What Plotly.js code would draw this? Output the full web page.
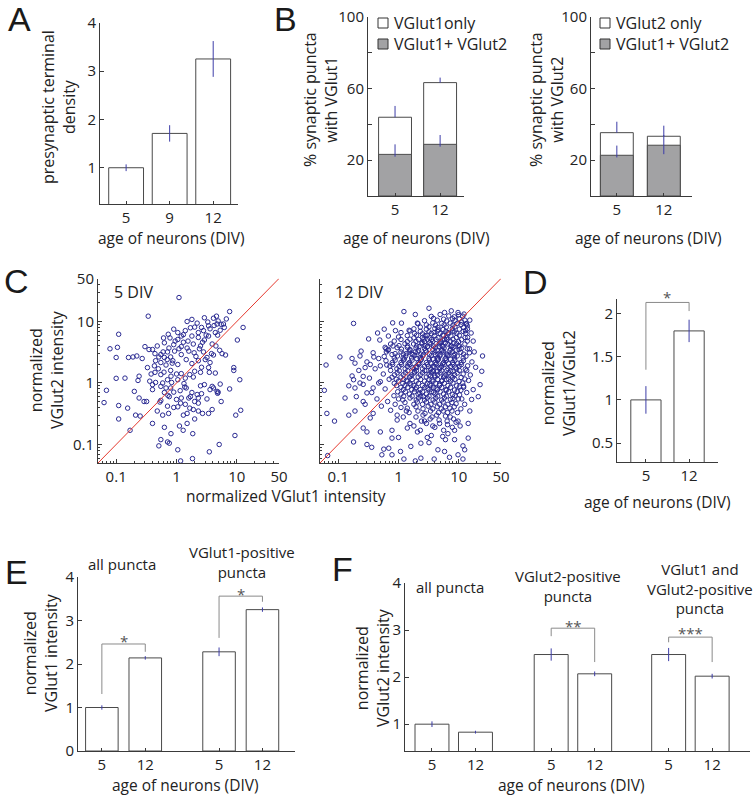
<!DOCTYPE html>
<html>
<head>
<meta charset="utf-8">
<script src="https://cdn.plot.ly/plotly-3.0.1.min.js"></script>
<style>body{margin:0;background:#fff}#plot{width:754px;height:797px}</style>
</head>
<body>
<div id="plot"></div>
<script>
// ---- data ----
var ageA = ["5", "9", "12"];
var densityA = [1.0, 1.71, 3.25];
var densityErrA = [0.07, 0.17, 0.37];

var ageB = ["5", "12"];
var vglut1Total = [43.9, 63.2];
var vglut1TotalErr = [6.3, 2.8];
var vglut1Both = [23.2, 28.8];
var vglut1BothErrUp = [5.6, 5.2];
var vglut1BothErrDown = [1.3, 1.3];
var vglut2Total = [35.3, 33.3];
var vglut2TotalErr = [6.1, 5.9];
var vglut2Both = [22.7, 28.3];
var vglut2BothErrUp = [5.4, 5.7];
var vglut2BothErrDown = [1.2, 5.0];

var ageD = ["5", "12"];
var ratioD = [1.0, 1.80];
var ratioErrD = [0.16, 0.13];

var ageE = ["5", "12", "5", "12"];
var vglut1IntE = [1.0, 2.14, 2.28, 3.25];
var vglut1ErrE = [0.05, 0.04, 0.10, 0.05];

var ageF = ["5", "12", "5", "12", "5", "12"];
var vglut2IntF = [1.0, 0.83, 2.48, 2.07, 2.48, 2.02];
var vglut2ErrF = [0.06, 0.03, 0.13, 0.05, 0.14, 0.05];

var diagonal = [0.05, 50];

// [VGlut1, VGlut2] normalized intensity, 5 DIV
var div5Points = [
 [1.1,24.5],[0.34,12.2],[7.6,14.5],[12.7,8],[0.11,6.2],[1.8,10.8],[3.3,9.8],[4.1,11.3],[4.7,9.1],[6.7,11],
 [2.6,8],[2.0,8.1],[2.8,7.1],[0.9,7.5],[1.05,6.6],[0.73,6.2],[0.61,5.4],[0.78,5.4],[1.05,5.1],[1.3,6.1],
 [1.55,4.8],[1.8,5.8],[2.3,5.5],[2.9,5],[3.4,5.8],[4.4,6.6],[5.3,7.2],[6,9.1],[4.9,10.2],[3.4,8.5],
 [2.3,6.6],[1.4,7.1],[10.2,5],[3.9,4.3],[2.5,4],[1.9,4.3],[1.5,3.7],[1.2,3.9],[0.9,4.2],[0.63,4.5],
 [0.48,4],[0.4,3.5],[0.079,3.6],[0.105,3.8],[0.1,2.6],[0.16,2.6],[0.19,2.65],[0.22,2.75],[0.35,3.5],[0.44,3],
 [0.51,2.65],[0.71,3.2],[0.93,3.3],[1.2,2.9],[1.45,2.4],[1.96,3.1],[2.8,3.2],[3.2,2.6],[4.1,2.85],[5.7,3],
 [6.5,2.85],[3.6,2.15],[2.3,2.3],[1.8,2.07],[1.05,2],[0.87,2.3],[0.67,1.96],[0.55,2.15],[0.43,1.9],[0.33,1.78],
 [3.4,1.78],[8.9,1.78],[0.63,2.6],[0.8,2.65],
 [0.1,1.19],[0.14,1.2],[0.23,1.1],[0.24,1.29],[0.36,1.07],[0.44,1.49],[0.55,1.37],[0.59,1],[0.71,1.13],[0.81,1.29],
 [0.83,1.02],[1.05,1.13],[1.2,1.42],[1.66,1.37],[2,1.55],[2.5,1.49],[3.5,1.49],[4.4,1.45],[8.9,1.6],[0.069,0.76],
 [0.063,0.48],[0.11,0.43],[0.155,0.39],[0.11,0.26],[0.2,0.73],[0.24,0.57],[0.29,0.5],[0.32,0.5],[0.4,0.78],[0.55,0.88],
 [0.53,0.49],[0.55,0.52],[0.67,0.83],[0.8,0.83],[0.9,0.71],[1.37,0.86],[1.45,0.83],[1.8,0.7],[2.2,0.65],[2.3,0.57],
 [2.6,0.67],[2.9,0.94],[3.6,0.78],[4.1,0.83],[4.7,0.73],[4.9,0.71],[3.9,0.88],[5.5,0.5],[7.6,0.8],[11.2,1.13],
 [1.17,0.47],[1.05,0.41],[1.4,0.45],[1.66,0.39],[1.9,0.37],[2.3,0.35],[2.7,0.32],[3.4,0.32],[3.9,0.37],[0.71,0.42],
 [0.74,0.32],[0.59,0.3],[0.48,0.35],[0.4,0.22],[0.21,0.3],[0.25,0.29],[0.63,0.19],[1.12,0.2],[1.29,0.17],[1.5,0.22],
 [1.86,0.15],[0.81,0.15],[0.55,0.12],[0.51,0.095],[0.71,0.11],[0.76,0.105],[1.05,0.082],[1.17,0.054],[1.84,0.059],[3.5,0.076],
 [5.1,0.1],[9.3,0.14],[9.6,0.3],[11.6,0.36],[0.17,0.17],[0.76,0.6],[1,0.54],[1.2,0.57],[2,0.5],[1.6,0.57],
 [0.45,1.02],[0.4,0.94],[0.63,0.7],[1.33,0.98],[2.3,0.47],[1.5,0.32],[5.3,0.96],[4.8,0.68],
 [0.6,3.2],[0.7,2.4],[0.85,2.1],[1.1,3.6],[1.3,4.6],[1.6,3.3],[2.1,2.7],[2.4,3.6],[2.7,4.6],[3.1,6],
 [3.6,7.6],[4.2,8.6],[4.8,6],[5.5,9],[6.2,8],[2.2,9.4],[1.7,7.9],[1.2,5.8],[0.95,4.8],[0.75,3.7],
 [0.55,2.9],[0.5,1.7],[0.62,1.5],[0.8,1.6],[1.0,1.4],[1.4,1.2],[1.9,1.25],[2.6,1.8],[3.0,2.4],[3.8,3],
 [4.5,4],[5.2,3.4],[0.45,2.3],[0.38,1.4],[0.3,3.9],[0.27,2.5],[1.5,10],[2.9,11.5],[4.6,12.2],[0.72,0.63],
 [1.15,0.75],[1.7,0.6],[2.5,0.9],[3.2,0.55],[0.9,0.4],[1.3,0.3],[2.0,0.26]
];

// [VGlut1, VGlut2] normalized intensity, 12 DIV
var div12Points = [
 // sparse points around the cloud
 [0.18,9.3],[1.23,14.5],[1.9,13],[3.2,16.4],[5.8,14],[7.5,14.9],[9.7,14],[12.2,13.2],[1.12,9.4],[0.49,5],
 [0.89,7.1],[1.5,7.2],[2.06,9.4],[13.4,9.1],[12.9,7.1],[17.3,4.8],[24.7,2.75],[0.107,2.65],[0.17,2.5],[0.23,2.75],
 [0.39,2.65],[0.6,3.8],[0.67,3.4],[0.81,4],[0.28,1.78],[0.34,2.0],[0.5,1.9],[0.64,1.96],[0.063,1.96],
 [0.065,0.32],[0.059,0.76],[0.087,0.24],[0.067,0.066],[0.13,0.57],[0.15,0.3],[0.19,0.35],[0.18,0.11],[0.3,0.1],[0.36,0.09],
 [0.57,0.084],[0.69,0.087],[0.53,0.068],[0.78,0.068],[1.08,0.077],[1.6,0.093],[2.35,0.105],[3.2,0.107],[4.5,0.082],[5.8,0.077],
 [8.5,0.12],[11.7,0.095],[12.5,0.082],[11.7,0.058],[9.7,0.068],[7,0.062],[3.9,0.058],[2.35,0.06],[1.9,0.054],[1.23,0.058],
 [1.0,0.13],[0.78,0.127],[0.5,0.16],[0.3,0.16],[0.26,0.185],[0.38,0.32],[0.34,0.27],[0.26,0.5],[0.3,0.69],[0.38,0.83],
 [0.47,1],[0.18,1.13],[0.23,1],[0.19,0.83],[0.26,1.28],[14.3,0.127],[8.5,0.17],[9.7,0.24],[14.3,0.22],[15.2,0.35],
 [16.3,0.54],[17.3,0.78],[21,0.6],[24,1.55],[22.5,0.94],[3.7,0.2],[2.7,0.24],[2.06,0.16],[1.4,0.185],[0.95,0.25],
 [0.78,0.17],[5.4,0.135],[6.6,0.15],
 [0.22,1.6],[0.26,0.95],[0.3,2.2],[0.33,1.2],[0.36,0.7],[0.38,3.1],[0.41,1.7],[0.44,0.55],[0.47,2.5],[0.5,1.05],
 [0.52,0.42],[0.56,1.4],[0.6,0.8],[0.62,3.6],[0.66,0.5],[0.7,1.15],[0.74,0.36],[0.78,2.9],[0.84,0.62],[0.88,0.45],
 [0.95,0.3],[0.28,0.45],[0.24,3.3],[0.2,0.6],[0.32,5.2],[0.45,6.5],[0.58,7.5],[0.8,9.5],[0.68,5.8],[1.0,0.55],
 [1.1,0.4],[1.2,0.28],[1.35,0.35],[1.55,0.22],[0.17,1.3],[0.15,0.9],[0.19,2.1],
 [1.8,0.2],[2.3,0.17],[2.9,0.22],[3.5,0.14],[4.0,0.19],[4.8,0.22],[5.6,0.17],[6.5,0.21],[7.8,0.19],[9.0,0.23],
 [10.5,0.2],[3.0,0.13],[6.0,0.12],[8.2,0.26],[9.5,0.33],[10.8,0.38],[12.5,0.45],[11.2,0.55],[13.5,0.7],[12.0,0.85],
 [14.5,1.1],[15.5,1.35],[13.5,1.6],[16.5,2.2],[18,3.2],[15,3.6],[19,1.8],[14,5.5],[16,6.5],[13.8,8.5],[15.2,10.5],
 // dense core, read band by band
 [3.5,12.1],[4.9,13.0],[6.8,12.3],[8.4,11.9],[9.9,12.9],[11.6,12.2],
 [2.7,10.3],[3.8,11.2],[4.4,10.5],[5.6,10.9],[6.3,10.2],[7.9,11.1],[8.6,10.4],[10.2,11.0],[12.6,10.5],[11.1,9.8],
 [2.1,9.2],[2.9,8.8],[3.7,9.5],[4.1,8.7],[5.2,9.3],[5.7,8.8],[7.2,9.4],[8.0,8.7],[9.4,9.3],[10.9,8.9],[13.2,9.2],
 [1.8,7.6],[2.3,8.1],[2.9,7.5],[3.2,8.2],[4.0,7.7],[4.5,8.0],[5.5,7.4],[6.2,8.1],[7.8,7.6],[8.6,8.2],[10.2,7.5],[12.0,8.0],[13.9,7.6],
 [1.1,6.6],[1.55,7.0],[1.85,6.4],[2.3,6.9],[2.5,6.3],[3.2,6.8],[3.5,6.4],[4.4,7.0],[4.9,6.4],[6.1,6.9],[6.7,6.3],[8.4,6.8],[9.3,6.4],[11.8,6.9],[13.0,6.4],
 [1.0,5.6],[1.4,5.9],[1.8,5.4],[2.0,6.0],[2.5,5.5],[2.75,5.9],[3.3,5.4],[4.0,5.9],[4.5,5.45],[5.6,5.95],[6.2,5.4],[7.4,5.8],[9.1,5.5],[10.2,5.95],[12.7,5.5],
 [0.85,4.8],[1.1,5.1],[1.4,4.7],[1.55,5.15],[1.95,4.75],[2.15,5.1],[2.7,4.7],[3.0,5.15],[3.7,4.75],[4.2,5.1],[5.1,4.7],[5.8,5.1],[7.2,4.75],[8.0,5.15],[9.9,4.7],[11.1,5.05],[13.8,4.8],
 [0.74,4.3],[1.02,4.05],[1.28,4.35],[1.42,4.0],[1.78,4.3],[2.0,4.0],[2.45,4.35],[2.75,4.05],[3.45,4.3],[3.8,4.0],[4.75,4.35],[5.3,4.0],[6.6,4.3],[7.4,4.05],[9.2,4.35],[10.3,4.0],[12.6,4.3],
 [0.68,3.5],[0.95,3.75],[1.12,3.55],[1.4,3.8],[1.55,3.5],[1.95,3.7],[2.15,3.4],[2.7,3.65],[3.0,3.85],[3.7,3.5],[4.1,3.75],[5.2,3.45],[5.7,3.7],[7.3,3.55],[8.0,3.8],[10.1,3.5],[11.0,3.65],[13.8,3.6],
 [0.63,3.2],[0.88,3.0],[1.1,3.2],[1.2,2.95],[1.5,3.2],[1.68,2.95],[2.1,3.2],[2.35,2.95],[2.9,3.2],[3.25,2.95],[4.0,3.2],[4.5,2.95],[5.6,3.2],[6.2,2.95],[7.8,3.2],[8.6,2.95],[10.8,3.15],[12.0,2.95],[15.0,3.1],
 [0.58,2.7],[0.85,2.55],[0.96,2.75],[1.19,2.55],[1.32,2.75],[1.65,2.55],[1.85,2.78],[2.28,2.55],[2.52,2.75],[3.2,2.52],[3.5,2.78],[4.45,2.55],[4.85,2.75],[6.1,2.52],[6.8,2.78],[8.5,2.55],[9.4,2.75],[11.8,2.55],[13.1,2.72],
 [0.62,2.3],[0.79,2.15],[0.88,2.35],[1.1,2.15],[1.2,2.35],[1.52,2.15],[1.68,2.35],[2.12,2.12],[2.33,2.35],[2.9,2.15],[3.25,2.35],[4.05,2.15],[4.45,2.35],[5.6,2.15],[6.2,2.35],[7.9,2.15],[8.6,2.33],[10.9,2.15],[11.9,2.3],
 [0.72,1.88],[0.8,2.0],[1.02,1.86],[1.12,2.0],[1.4,1.86],[1.55,2.0],[1.97,1.86],[2.15,2.0],[2.7,1.86],[3.0,2.0],[3.75,1.86],[4.15,2.0],[5.2,1.86],[5.75,2.0],[7.3,1.86],[8.0,2.0],[10.1,1.87],[11.0,1.99],[14.0,1.9],
 [0.74,1.6],[0.94,1.7],[1.03,1.58],[1.29,1.7],[1.42,1.58],[1.8,1.7],[1.98,1.58],[2.5,1.7],[2.72,1.58],[3.45,1.7],[3.8,1.58],[4.8,1.7],[5.2,1.58],[6.6,1.7],[7.3,1.58],[9.2,1.7],[10.2,1.6],[12.8,1.68],
 [0.86,1.36],[0.95,1.46],[1.2,1.36],[1.3,1.46],[1.66,1.36],[1.83,1.46],[2.3,1.36],[2.5,1.46],[3.2,1.36],[3.5,1.46],[4.45,1.36],[4.9,1.46],[6.1,1.36],[6.8,1.46],[8.5,1.37],[9.4,1.45],[11.8,1.4],
 [0.78,1.24],[0.92,1.15],[1.1,1.25],[1.22,1.14],[1.52,1.25],[1.68,1.14],[2.12,1.25],[2.33,1.14],[2.9,1.25],[3.2,1.14],[4.05,1.25],[4.45,1.14],[5.6,1.25],[6.2,1.14],[7.9,1.24],[8.6,1.15],[10.9,1.23],[12.6,1.16],
 [0.85,0.99],[1.0,1.07],[1.18,0.99],[1.4,1.07],[1.55,0.99],[1.97,1.07],[2.15,0.99],[2.7,1.07],[3.0,0.99],[3.75,1.07],[4.15,0.99],[5.2,1.07],[5.75,0.99],[7.3,1.07],[8.0,1.0],[10.1,1.06],[11.6,1.0],
 [0.93,0.91],[1.1,0.85],[1.28,0.91],[1.42,0.85],[1.8,0.91],[1.98,0.85],[2.5,0.91],[2.72,0.85],[3.45,0.91],[3.8,0.85],[4.8,0.91],[5.2,0.85],[6.6,0.91],[7.3,0.85],[9.2,0.9],[10.2,0.86],[12.0,0.89],
 [0.97,0.72],[1.2,0.78],[1.3,0.72],[1.66,0.78],[1.83,0.72],[2.3,0.78],[2.5,0.72],[3.2,0.78],[3.5,0.72],[4.45,0.78],[4.9,0.72],[6.1,0.78],[6.8,0.72],[8.5,0.77],[9.4,0.73],[10.8,0.76],
 [1.1,0.66],[1.22,0.61],[1.52,0.66],[1.68,0.61],[2.12,0.66],[2.33,0.61],[2.9,0.66],[3.2,0.61],[4.05,0.66],[4.45,0.61],[5.6,0.66],[6.2,0.61],[7.9,0.65],[8.6,0.62],[10.3,0.64],
 [1.18,0.53],[1.55,0.57],[1.97,0.53],[2.15,0.57],[2.7,0.53],[3.0,0.57],[3.75,0.53],[4.15,0.57],[5.2,0.53],[5.75,0.57],[7.3,0.54],[8.0,0.56],[9.8,0.55],
 [1.28,0.48],[1.8,0.45],[2.05,0.49],[2.5,0.45],[2.9,0.49],[3.45,0.45],[4.0,0.49],[4.8,0.45],[5.5,0.49],[6.6,0.45],[7.7,0.48],[9.0,0.46],
 [1.4,0.39],[1.95,0.41],[2.55,0.38],[3.1,0.42],[3.7,0.38],[4.4,0.41],[5.1,0.38],[6.0,0.41],[7.1,0.39],[8.4,0.41],
 [1.5,0.33],[2.1,0.35],[2.75,0.32],[3.4,0.35],[4.6,0.33],[5.5,0.35],[6.5,0.33],[7.7,0.35],
 [1.95,0.28],[2.55,0.3],[3.6,0.28],[4.3,0.3],[6.0,0.29],[7.2,0.28],
 [2.4,0.24],[3.35,0.26],[4.7,0.25],[6.4,0.24],
 // darkest centre of the cloud
 [1.6,1.28],[1.85,1.52],[2.0,1.78],[2.25,2.08],[2.4,2.45],[2.6,2.9],[2.8,3.4],[3.05,3.95],[3.3,4.5],[3.55,5.1],
 [3.4,1.3],[3.65,1.55],[3.9,1.82],[4.3,2.08],[4.6,2.45],[4.9,2.88],[5.3,3.35],[5.5,3.95],[6.0,4.5],[6.4,5.1],
 [1.35,1.1],[1.6,0.93],[1.9,0.8],[2.25,0.69],[2.6,0.6],[3.0,0.82],[3.3,0.96],[3.6,1.12],[4.0,1.32],[4.4,1.55],
 [4.9,1.78],[5.4,2.05],[5.9,2.45],[6.5,2.85],[7.1,3.35],[7.6,3.95],[8.2,4.5],[2.0,2.5],[1.75,2.9],[1.55,3.4],
 [1.35,3.0],[1.25,2.45],[1.45,2.05],[1.7,1.78],[2.9,1.6],[3.15,1.85],[3.45,2.1],[3.7,2.45],[4.05,2.9],[4.35,3.4],
 [4.7,3.95],[5.0,4.5],[5.4,5.0],[6.8,2.05],[7.2,2.45],[6.3,1.6],[5.8,1.3],[5.3,1.1],[4.8,0.96],[4.2,0.82],
 [3.8,0.7],[6.8,1.15],[7.4,1.3],[8.0,1.55],[8.8,1.8],[9.6,2.1],[8.3,2.8],[9.0,3.4],[9.8,4.0],[6.2,0.76],
 [2.2,3.9],[2.45,4.55],[1.9,3.2],[2.65,5.2],[3.0,6.0],[3.9,6.6],[4.6,7.3],[5.4,6.0],[6.6,6.6],[7.9,7.0]
];

// ---- layout helpers (pixel boxes of the 754x797 figure) ----
var W = 754, H = 797;
var FONT = "Open Sans, sans-serif";
var INK = "#222";
var BAR_EDGE = "#4a4a4a";
var ERR = "#3d3da8";
var GREY = "#a2a2a4";

function xdom(a, b) { return [a / W, b / W]; }
function ydom(top, bottom) { return [1 - bottom / H, 1 - top / H]; }
function px(x) { return x / W; }
function py(y) { return 1 - y / H; }

function axis(extra) {
  var a = {
    showline: true, linecolor: "#3a3a3a", linewidth: 1,
    ticks: "inside", ticklen: 4, tickcolor: "#3a3a3a",
    showgrid: false, zeroline: false, fixedrange: true,
    tickfont: {family: FONT, size: 15, color: INK}
  };
  for (var k in extra) a[k] = extra[k];
  return a;
}

function errBar(arr, minus) {
  var e = {type: "data", array: arr, color: ERR, thickness: 1, width: 0};
  if (minus) { e.symmetric = false; e.arrayminus = minus; }
  return e;
}

function bars(x, y, err, xa, ya, width, fill) {
  return {
    type: "bar", x: x, y: y, width: width, xaxis: xa, yaxis: ya,
    marker: {color: fill || "white", line: {color: BAR_EDGE, width: 1}},
    error_y: err, showlegend: false, hoverinfo: "skip"
  };
}

var slotA = [1, 2, 3];
var slotB = [1, 2];
var slotE = [1, 2, 3.7, 4.7];
var slotF = [1, 2, 3.74, 4.74, 6.44, 7.44];

var data = [
  bars(slotA, densityA, errBar(densityErrA), "x", "y", 0.8),
  bars(slotB, vglut1Total, errBar(vglut1TotalErr, [0, 0]), "x2", "y2", 0.73),
  bars(slotB, vglut1Both, errBar(vglut1BothErrUp, vglut1BothErrDown), "x2", "y2", 0.73, GREY),
  bars(slotB, vglut2Total, errBar(vglut2TotalErr, [0, 0]), "x3", "y3", 0.7),
  bars(slotB, vglut2Both, errBar(vglut2BothErrUp, vglut2BothErrDown), "x3", "y3", 0.7, GREY),
  bars(slotB, ratioD, errBar(ratioErrD), "x6", "y6", 0.7),
  bars(slotE, vglut1IntE, errBar(vglut1ErrE), "x7", "y7", 0.75),
  bars(slotF, vglut2IntF, errBar(vglut2ErrF), "x8", "y8", 0.78)
];

function scatterTrace(points, xa, ya) {
  return {
    type: "scatter", mode: "markers", xaxis: xa, yaxis: ya,
    x: points.map(p => p[0]), y: points.map(p => p[1]),
    marker: {symbol: "circle-open", size: 4.5, color: "#2a2a92", line: {width: 1}},
    showlegend: false, hoverinfo: "skip"
  };
}
function diagTrace(xa, ya) {
  return {
    type: "scatter", mode: "lines", x: diagonal, y: diagonal, xaxis: xa, yaxis: ya,
    line: {color: "#e5392e", width: 1}, showlegend: false, hoverinfo: "skip"
  };
}
data.push(scatterTrace(div5Points, "x4", "y4"), diagTrace("x4", "y4"));
data.push(scatterTrace(div12Points, "x5", "y5"), diagTrace("x5", "y5"));

var logRange = [Math.log10(0.05), Math.log10(50)];
var logTicks = [0.1, 1, 10, 50];
var logMinor = [0.06, 0.07, 0.08, 0.09, 0.2, 0.3, 0.4, 0.5, 0.6, 0.7, 0.8, 0.9,
                2, 3, 4, 5, 6, 7, 8, 9, 20, 30, 40];
function logAxis(dom, anchor, labels) {
  return axis({
    type: "log", domain: dom, anchor: anchor, range: logRange,
    tickmode: "array", tickvals: logTicks, ticktext: ["0.1", "1", "10", "50"],
    showticklabels: labels,
    minor: {ticks: "inside", ticklen: 2, tickcolor: "#3a3a3a", tickvals: logMinor}
  });
}

var layout = {
  width: W, height: H,
  margin: {l: 0, r: 0, t: 0, b: 0},
  paper_bgcolor: "white", plot_bgcolor: "rgba(0,0,0,0)",
  barmode: "overlay", showlegend: false,
  font: {family: FONT, size: 16, color: INK},

  xaxis: axis({domain: xdom(100, 238), anchor: "y", range: [0.4, 3.57], tickmode: "array", tickvals: slotA, ticktext: ageA, ticklen: 3}),
  yaxis: axis({domain: ydom(22.7, 204), anchor: "x", range: [0.25, 4], tickmode: "array", tickvals: [1, 2, 3, 4]}),

  xaxis2: axis({domain: xdom(368, 464), anchor: "y2", range: [0.4, 2.53], tickmode: "array", tickvals: slotB, ticktext: ageB, ticklen: 3}),
  yaxis2: axis({domain: ydom(16.6, 196), anchor: "x2", range: [0, 100], tickmode: "array", tickvals: [20, 40, 60, 80, 100], ticktext: ["20", "", "60", "", "100"]}),

  xaxis3: axis({domain: xdom(591, 692), anchor: "y3", range: [0.45, 2.6], tickmode: "array", tickvals: slotB, ticktext: ageB, ticklen: 3}),
  yaxis3: axis({domain: ydom(16.6, 196), anchor: "x3", range: [0, 100], tickmode: "array", tickvals: [20, 40, 60, 80, 100], ticktext: ["20", "", "60", "", "100"]}),

  xaxis4: logAxis(xdom(98, 279), "y4", true),
  yaxis4: logAxis(ydom(278.5, 463), "x4", true),
  xaxis5: logAxis(xdom(320, 501), "y5", true),
  yaxis5: logAxis(ydom(278.5, 463), "x5", false),

  xaxis6: axis({domain: xdom(617, 718), anchor: "y6", range: [0.33, 2.67], tickmode: "array", tickvals: slotB, ticktext: ageD, ticklen: 3}),
  yaxis6: axis({domain: ydom(299, 462), anchor: "x6", range: [0.28, 2.17], tickmode: "array", tickvals: [0.5, 1, 1.5, 2]}),

  xaxis7: axis({domain: xdom(78, 295), anchor: "y7", range: [0.45, 5.45], tickmode: "array", tickvals: slotE, ticktext: ageE, ticklen: 3}),
  yaxis7: axis({domain: ydom(577, 751), anchor: "x7", range: [0, 4], tickmode: "array", tickvals: [0, 1, 2, 3, 4]}),

  xaxis8: axis({domain: xdom(405, 750), anchor: "y8", range: [0.38, 8.31], tickmode: "array", tickvals: slotF, ticktext: ageF, ticklen: 3}),
  yaxis8: axis({domain: ydom(583, 751), anchor: "x8", range: [0.43, 4], tickmode: "array", tickvals: [1, 2, 3, 4]}),

  shapes: [],
  annotations: []
};

// text helpers
function label(text, x, y, opts) {
  var a = {
    xref: "paper", yref: "paper", x: px(x), y: py(y), text: text, showarrow: false,
    xanchor: "center", yanchor: "middle", font: {family: FONT, size: 16, color: INK}
  };
  for (var k in opts) a[k] = opts[k];
  layout.annotations.push(a);
}
function ytitle(text, x, y) { label(text, x, y, {textangle: -90}); }
function xtitle(text, x, y) { label(text, x, y, {font: {family: FONT, size: 15.5, color: INK}}); }
function group(text, x, y) { label(text, x, y, {font: {family: FONT, size: 15, color: INK}}); }
function letter(text, x, y) {
  label(text, x, y, {font: {family: "Liberation Sans, Arial, sans-serif", size: 34, color: "#1a1a1a"}});
}
function bracket(xa, ya, path) {
  layout.shapes.push({type: "path", xref: xa, yref: ya, path: path, line: {color: "#8a8a8a", width: 1}});
}
function stars(text, x, y) {
  label(text, x, y, {font: {family: FONT, size: 15, color: "#555"}});
}
function swatch(x, y, fill) {
  layout.shapes.push({type: "rect", xref: "paper", yref: "paper",
    x0: px(x), x1: px(x + 10), y0: py(y + 10), y1: py(y),
    fillcolor: fill, line: {color: "#333", width: 1}});
}

// panel letters
letter("A", 19, 19);
letter("B", 285, 19);
letter("C", 16, 281);
letter("D", 535, 282);
letter("E", 16, 572);
letter("F", 342, 569);

// axis titles
var ageTitle = "age of neurons (DIV)";
ytitle("presynaptic terminal<br>density", 58, 107);
xtitle(ageTitle, 171, 238);
ytitle("% synaptic puncta<br>with VGlut1", 320, 100);
xtitle(ageTitle, 416, 238);
ytitle("% synaptic puncta<br>with VGlut2", 546, 100);
xtitle(ageTitle, 648, 238);
ytitle("normalized<br>VGlut2 intensity", 46, 370);
xtitle("normalized VGlut1 intensity", 286, 496);
ytitle("normalized<br>VGlut1/VGlut2", 559, 383);
xtitle(ageTitle, 657, 502);
ytitle("normalized<br>VGlut1 intensity", 40, 653);
xtitle(ageTitle, 185, 785);
ytitle("normalized<br>VGlut2 intensity", 372, 668);
xtitle(ageTitle, 571, 785);

// scatter panel tags
label("5 DIV", 112, 292, {xanchor: "left"});
label("12 DIV", 333, 292, {xanchor: "left"});

// B legends
swatch(378, 18, "white");
label("VGlut1only", 392, 23, {xanchor: "left"});
swatch(378, 39, GREY);
label("VGlut1+ VGlut2", 392, 44, {xanchor: "left"});
swatch(600, 18, "white");
label("VGlut2 only", 614, 23, {xanchor: "left"});
swatch(600, 39, GREY);
label("VGlut1+ VGlut2", 614, 44, {xanchor: "left"});

// group labels E / F
group("all puncta", 122, 564);
group("VGlut1-positive<br>puncta", 242, 562);
group("all puncta", 450, 587);
group("VGlut2-positive<br>puncta", 568, 586);
group("VGlut1 and<br>VGlut2-positive<br>puncta", 700, 588);

// significance brackets
bracket("x6", "y6", "M1,1.35 L1,2.13 L2,2.13 L2,2.03");
stars("*", 667, 297);
bracket("x7", "y7", "M1,1.31 L1,2.46 L2,2.46 L2,2.28");
stars("*", 124, 641);
bracket("x7", "y7", "M3.7,2.6 L3.7,3.56 L4.7,3.56 L4.7,3.43");
stars("*", 241, 594);
bracket("x8", "y8", "M3.74,2.87 L3.74,3.04 L4.74,3.04 L4.74,2.32");
stars("**", 573, 626);
bracket("x8", "y8", "M6.44,2.74 L6.44,2.85 L7.44,2.85 L7.44,2.32");
stars("***", 690, 633);

Plotly.newPlot("plot", data, layout, {staticPlot: true});
</script>
</body>
</html>
